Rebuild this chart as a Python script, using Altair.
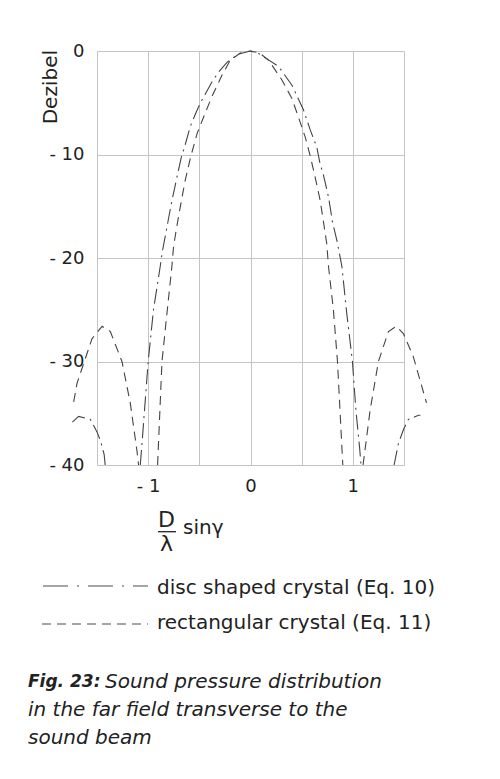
import altair as alt
import pandas as pd

# ---- data (u = D/lambda * sin(gamma), level in dB) ----
disc_main_u = [-1.077, -1.06, -1.0, -0.948, -0.882, -0.86, -0.816, -0.777, -0.719, -0.677, -0.645,
               -0.589, -0.53, -0.484, -0.377, -0.312, -0.225, -0.12, 0.0, 0.08, 0.275, 0.405, 0.518,
               0.583, 0.648, 0.68, 0.713, 0.762, 0.801, 0.844, 0.893, 0.94, 0.996, 1.03, 1.065, 1.08]
disc_main_db = [-40, -37.9, -30, -25.0, -20.8, -19.3, -17.0, -14.9, -12.2, -10.3, -9.3,
                -7.3, -5.9, -4.9, -3.0, -2.03, -1.05, -0.3, 0, -0.25, -1.5, -3.3, -5.7,
                -7.6, -9.3, -10.9, -12.0, -14.1, -16.5, -18.3, -20.8, -25.3, -30, -34.7, -38.2, -40]
disc_left_u = [-1.42, -1.43, -1.468, -1.5, -1.565, -1.68, -1.745]
disc_left_db = [-40, -39.0, -37.6, -36.8, -35.6, -35.3, -35.9]
disc_right_u = [1.403, 1.446, 1.494, 1.543, 1.64, 1.66]
disc_right_db = [-40, -37.9, -36.6, -35.6, -35.2, -35.2]

rect_main_u = [-0.908, -0.865, -0.816, -0.768, -0.752, -0.726, -0.687, -0.638, -0.589, -0.523,
               -0.459, -0.377, -0.279, -0.198, -0.1, 0.0, 0.09, 0.178, 0.307, 0.405, 0.469,
               0.534, 0.583, 0.632, 0.68, 0.713, 0.745, 0.762, 0.81, 0.85, 0.902]
rect_main_db = [-40, -30, -25.3, -20.8, -18.9, -17.3, -15.1, -12.5, -10.4, -8.0,
                -6.4, -4.4, -2.35, -0.9, -0.2, 0, -0.2, -0.9, -2.8, -4.6, -6.4,
                -8.3, -10.1, -12.2, -14.4, -16.5, -18.6, -20.8, -25.0, -30, -40]
rect_left_u = [-1.728, -1.695, -1.549, -1.45, -1.37, -1.256, -1.175, -1.11, -1.094]
rect_left_db = [-33.9, -32.1, -27.8, -26.6, -27.1, -30, -34.0, -38.6, -40]
rect_right_u = [1.10, 1.169, 1.25, 1.348, 1.423, 1.494, 1.59, 1.72]
rect_right_db = [-40, -34.7, -30, -27.1, -26.6, -27.3, -29.5, -34.0]

x_grid = [-1.5, -1.0, -0.5, 0.0, 0.5, 1.0, 1.5]
y_grid = [0, -10, -20, -30, -40]

legend_labels = ["disc shaped crystal (Eq. 10)", "rectangular crystal (Eq. 11)"]
caption_bold = "Fig. 23:"
caption_lines = ["Sound pressure distribution", "in the far field transverse to the", "sound beam"]
y_title = "Dezibel"


def frame(series, parts):
    rows = []
    for seg, (us, ds) in enumerate(parts):
        for i, (u, d) in enumerate(zip(us, ds)):
            rows.append({"series": series, "seg": f"{series}{seg}", "i": i, "u": u, "db": d})
    return pd.DataFrame(rows)


disc_df = frame("disc", [(disc_main_u, disc_main_db), (disc_left_u, disc_left_db),
                         (disc_right_u, disc_right_db)])
rect_df = frame("rect", [(rect_main_u, rect_main_db), (rect_left_u, rect_left_db),
                         (rect_right_u, rect_right_db)])

FONT = "DejaVu Sans"
TXT = "#222222"
LINE = "#444444"

x_enc = alt.X("u:Q", scale=alt.Scale(domain=[-1.5, 1.5], nice=False, zero=False),
              axis=alt.Axis(values=x_grid, grid=True, ticks=False, domain=False, title=None,
                            labelExpr="datum.value == 0 ? '0' : (abs(datum.value) == 1 ? (datum.value < 0 ? '- 1' : '1') : '')",
                            labelFont=FONT, labelFontSize=18, labelColor=TXT, labelPadding=12,
                            gridColor="#c4c4c4", gridWidth=1))
y_enc = alt.Y("db:Q", scale=alt.Scale(domain=[-40, 0], nice=False, zero=False),
              axis=alt.Axis(values=y_grid, grid=True, ticks=False, domain=False, title=None,
                            labelExpr="datum.value == 0 ? '0' : '- ' + abs(datum.value)",
                            labelFont=FONT, labelFontSize=18, labelColor=TXT, labelPadding=13,
                            labelBaseline="middle",
                            gridColor="#c4c4c4", gridWidth=1))

disc = alt.Chart(disc_df).mark_line(color=LINE, strokeWidth=1.1, strokeDash=[15, 5, 2, 5],
                                    clip=False).encode(x=x_enc, y=y_enc, detail="seg:N", order="i:Q")
rect = alt.Chart(rect_df).mark_line(color=LINE, strokeWidth=1.1, strokeDash=[9, 6],
                                    clip=False).encode(x="u:Q", y="db:Q", detail="seg:N", order="i:Q")

one = pd.DataFrame({"k": [0]})


def txt(text, x, y, size, **kw):
    params = dict(text=text, font=FONT, fontSize=size, color=TXT, align="left", baseline="middle")
    params.update(kw)
    return alt.Chart(one).mark_text(**params).encode(x=alt.value(x), y=alt.value(y))


def rule(x1, x2, y, dash=None, color=LINE, width=1.2):
    kw = dict(color=color, strokeWidth=width)
    if dash:
        kw["strokeDash"] = dash
    return alt.Chart(one).mark_rule(**kw).encode(x=alt.value(x1), x2=alt.value(x2), y=alt.value(y))


layers = [
    disc, rect,
    txt(y_title, -46, -1, 20, angle=270, align="right"),
    txt("D", 69.5, 469, 22, align="center"),
    rule(61, 79, 480.7, color=TXT, width=1.3),
    txt("λ", 69.5, 493, 22, align="center"),
    txt("sinγ", 86, 477, 20),
    rule(-54, 51, 535, dash=[25, 9, 2, 9], color="#888888", width=1.4),
    txt(legend_labels[0], 60, 537, 20),
    rule(-55, 51, 573, dash=[9, 6], color="#888888", width=1.4),
    txt(legend_labels[1], 60, 572, 20),
    txt(caption_bold, -69, 631, 17, fontWeight="bold", fontStyle="italic"),
    txt(caption_lines[0], 8, 631, 20, fontStyle="italic"),
    txt(caption_lines[1], -69, 659, 20, fontStyle="italic"),
    txt(caption_lines[2], -69, 687, 20, fontStyle="italic"),
]

chart = alt.layer(*layers).properties(
    width=307, height=414,
    autosize=alt.AutoSizeParams(type="none"),
    padding={"left": 89, "top": 43, "right": 85, "bottom": 300},
    background="white",
).configure_view(stroke=None)

chart.save("out.html", embed_options={"renderer": "svg", "actions": False})
